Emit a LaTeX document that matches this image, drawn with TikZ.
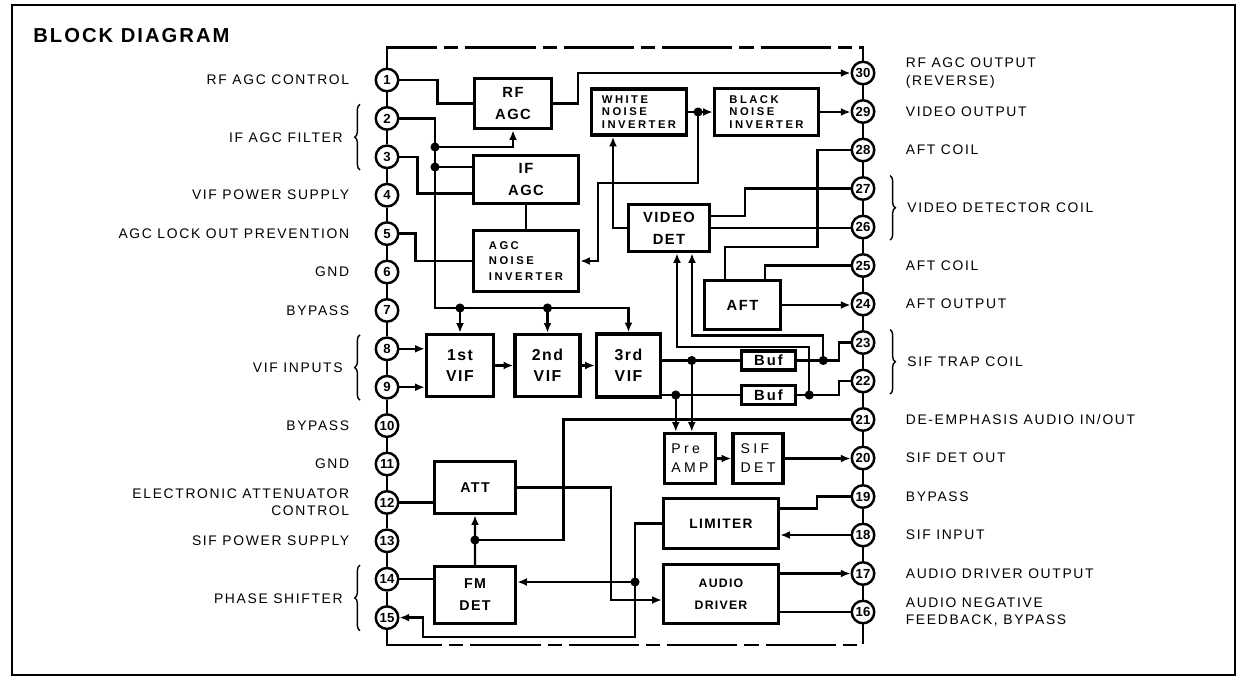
\documentclass[tikz,border=0pt]{standalone}
\usepackage{fontspec}
\setmainfont{Liberation Sans}
\newfontfamily\fetiq[LetterSpace=12]{Liberation Sans}
\newfontfamily\fbloq[LetterSpace=10]{Liberation Sans}
\newfontfamily\fancho[LetterSpace=22]{Liberation Sans}
\newfontfamily\fmuyancho[LetterSpace=24]{Liberation Sans}
\newfontfamily\fbuf[LetterSpace=14]{Liberation Sans}
\usetikzlibrary{arrows.meta,positioning,calc,decorations.pathreplacing}

\begin{document}
\begin{tikzpicture}[
            x=0.02cm, y=-0.02cm,
            bloque/.style={draw, line width=2pt, align=center, inner sep=1pt, font=\fbloq\bfseries\fontsize{8.4}{12.5}\selectfont},
            chico/.style={font=\fancho\bfseries\fontsize{6.4}{7.3}\selectfont, align=left},
            medio/.style={font=\fbloq\bfseries\fontsize{7.8}{12.5}\selectfont},
            ancho/.style={font=\fmuyancho\fontsize{8}{10.8}\selectfont, align=left},
            terminal/.style={draw, circle, line width=1.4pt, minimum size=0.45cm, inner sep=0pt, font=\bfseries\fontsize{7.5}{8}\selectfont},
            etiq/.style={font=\fetiq\fontsize{7.9}{9.8}\selectfont, inner sep=0pt},
            etiqizq/.style={etiq, align=right},
            etiqder/.style={etiq, align=left},
            linea/.style={line width=1.35pt},
            flecha/.style={linea, -{Latex[length=5.5pt,width=4.5pt]}},
            llave/.style={decorate, decoration={brace, amplitude=3pt}, line width=0.8pt},
            contorno/.style={line width=1.35pt, dash pattern=on 40pt off 4pt on 8pt off 4pt}
        ]
        \useasboundingbox (0,0) rectangle (1239,677);

        % Marco exterior y titulo
        \draw[line width=1.5pt] (12,5) rectangle (1235,675);
        \node[font=\fbloq\bfseries\fontsize{11.5}{14}\selectfont, anchor=west, inner sep=0pt] (titulo) at (33,36) {BLOCK DIAGRAM};

        % Patillas del circuito integrado
        \foreach \n in {1,...,15}
            \node[terminal] (p\n) at (387,{80+38.4*(\n-1)}) {\n};
        \foreach \n in {16,...,30}
            \node[terminal] (p\n) at (863,{73+38.5*(30-\n)}) {\n};
        \foreach \n [evaluate=\n as \m using int(\n+1)] in {1,...,14}
            \draw[linea] (p\n) -- (p\m);
        \foreach \n [evaluate=\n as \m using int(\n+1)] in {16,...,29}
            \draw[linea] (p\n) -- (p\m);

        % Contorno del chip (arriba y abajo)
        \draw[contorno] (p1.north) -- ++(0,-20) -| (p30.north);
        \draw[contorno] (p15.south) -- ++(0,15) -| (p16.south);

        % Etiquetas de la izquierda
        \node[etiqizq, left=0.5cm of p1] (e1) {RF AGC CONTROL};
        \node[etiqizq, anchor=east] (e2) at ($(p2)!0.5!(p3)+(-44,0)$) {IF AGC FILTER};
        \node[etiqizq, left=0.5cm of p4] (e4) {VIF POWER SUPPLY};
        \node[etiqizq, left=0.5cm of p5] (e5) {AGC LOCK OUT PREVENTION};
        \node[etiqizq, left=0.5cm of p6] (e6) {GND};
        \node[etiqizq, left=0.5cm of p7] (e7) {BYPASS};
        \node[etiqizq, anchor=east] (e8) at ($(p8)!0.5!(p9)+(-44,0)$) {VIF INPUTS};
        \node[etiqizq, left=0.5cm of p10] (e10) {BYPASS};
        \node[etiqizq, left=0.5cm of p11] (e11) {GND};
        \node[etiqizq, left=0.5cm of p12] (e12) {ELECTRONIC ATTENUATOR\\CONTROL};
        \node[etiqizq, left=0.5cm of p13] (e13) {SIF POWER SUPPLY};
        \node[etiqizq, anchor=east] (e14) at ($(p14)!0.5!(p15)+(-44,0)$) {PHASE SHIFTER};
        \draw[llave] ([shift={(-27,13)}]p3.center) -- ([shift={(-27,-14)}]p2.center);
        \draw[llave] ([shift={(-27,13)}]p9.center) -- ([shift={(-27,-14)}]p8.center);
        \draw[llave] ([shift={(-27,13)}]p15.center) -- ([shift={(-27,-14)}]p14.center);

        % Etiquetas de la derecha
        \node[etiqder, right=0.6cm of p30] (e30) {RF AGC OUTPUT\\(REVERSE)};
        \node[etiqder, right=0.6cm of p29] (e29) {VIDEO OUTPUT};
        \node[etiqder, right=0.6cm of p28] (e28) {AFT COIL};
        \node[etiqder, anchor=west] (e27) at ($(p27)!0.5!(p26)+(44,0)$) {VIDEO DETECTOR COIL};
        \node[etiqder, right=0.6cm of p25] (e25) {AFT COIL};
        \node[etiqder, right=0.6cm of p24] (e24) {AFT OUTPUT};
        \node[etiqder, anchor=west] (e23) at ($(p23)!0.5!(p22)+(44,0)$) {SIF TRAP COIL};
        \node[etiqder, right=0.6cm of p21] (e21) {DE-EMPHASIS AUDIO IN/OUT};
        \node[etiqder, right=0.6cm of p20] (e20) {SIF DET OUT};
        \node[etiqder, right=0.6cm of p19] (e19) {BYPASS};
        \node[etiqder, right=0.6cm of p18] (e18) {SIF INPUT};
        \node[etiqder, right=0.6cm of p17] (e17) {AUDIO DRIVER OUTPUT};
        \node[etiqder, right=0.6cm of p16] (e16) {AUDIO NEGATIVE\\FEEDBACK, BYPASS};
        \draw[llave] ([shift={(27,-13)}]p27.center) -- ([shift={(27,13)}]p26.center);
        \draw[llave] ([shift={(27,-13)}]p23.center) -- ([shift={(27,13)}]p22.center);

        % Bloques de AGC y supresion de ruido
        \node[bloque, minimum width=1.54cm, minimum height=1.0cm] (rfagc) at (513,103.5) {RF\\AGC};
        \node[bloque, minimum width=2.1cm, minimum height=0.96cm] (ifagc) at (526,179.5) {IF\\AGC};
        \node[bloque, chico, minimum width=2.1cm, minimum height=1.22cm, font=\fancho\bfseries\fontsize{6.4}{8.8}\selectfont] (agcni) at (526,261) {AGC\\NOISE\\INVERTER};
        \node[bloque, chico, minimum width=1.9cm, minimum height=0.92cm] (wni) at (639,112) {WHITE\\NOISE\\INVERTER};
        \node[bloque, chico, minimum width=2.08cm, minimum height=0.94cm] (bni) at (766.5,112) {BLACK\\NOISE\\INVERTER};

        % Detector de video y AFT
        \node[bloque, minimum width=1.62cm, minimum height=0.94cm] (vdet) at (669,228) {VIDEO\\DET};
        \node[bloque, minimum width=1.52cm, minimum height=0.98cm] (aft) at (742.5,305) {AFT};

        % Cadena de FI de video
        \node[bloque, minimum width=1.34cm, minimum height=1.24cm, font=\fbloq\bfseries\fontsize{9}{12}\selectfont] (vif1) at (460,365.5) {1st\\VIF};
        \node[bloque, minimum width=1.3cm, minimum height=1.24cm, font=\fbloq\bfseries\fontsize{9}{12}\selectfont, right=0.36cm of vif1] (vif2) {2nd\\VIF};
        \node[bloque, minimum width=1.28cm, minimum height=1.26cm, font=\fbloq\bfseries\fontsize{9}{12}\selectfont, right=0.26cm of vif2] (vif3) {3rd\\VIF};
        \node[bloque, minimum width=1.08cm, minimum height=0.38cm, font=\fbuf\bfseries\fontsize{8.4}{9}\selectfont] (bufa) at (768.5,360.5) {Buf};
        \node[bloque, minimum width=1.08cm, minimum height=0.38cm, font=\fbuf\bfseries\fontsize{8.4}{9}\selectfont, below=0.24cm of bufa] (bufb) {Buf};

        % Seccion de sonido
        \node[bloque, ancho, minimum width=1.02cm, minimum height=1.0cm] (preamp) at (690,458.5) {Pre\\AMP};
        \node[bloque, ancho, minimum width=1.0cm, minimum height=1.0cm, right=0.28cm of preamp] (sifdet) {SIF\\DET};
        \node[bloque, medio, minimum width=2.3cm, minimum height=1.0cm] (limiter) at (721,523.5) {LIMITER};
        \node[bloque, minimum width=2.3cm, minimum height=1.18cm, font=\fbloq\bfseries\fontsize{7}{12.5}\selectfont] (adrv) at (721,594) {AUDIO\\DRIVER};
        \node[bloque, medio, minimum width=1.62cm, minimum height=1.04cm, font=\fbloq\bfseries\fontsize{8.1}{12.5}\selectfont] (att) at (475,487.5) {ATT};
        \node[bloque, medio, minimum width=1.62cm, minimum height=1.14cm, font=\fbloq\bfseries\fontsize{8.1}{12.5}\selectfont] (fmdet) at (475,595) {FM\\DET};

        % Puntos de union
        \coordinate (bus) at (435,308);
        \coordinate (j1) at (435,147);
        \coordinate (j2) at (435,167);
        \coordinate (j3) at ($(wni.east)!0.4!(bni.west)$);
        \coordinate (jv1) at (vif1.north |- bus);
        \coordinate (jv2) at (vif2.north |- bus);
        \coordinate (j4) at ($(bufa.west)+(-48,0)$);
        \coordinate (j5) at ($(bufb.west)+(-64,0)$);
        \coordinate (j6) at ($(bufa.east)+(26,0)$);
        \coordinate (j7) at ($(bufb.east)+(12,0)$);
        \coordinate (j8) at ($(att.south)!0.5!(fmdet.north)$);
        \coordinate (j9) at (635,582);
        \foreach \j in {j1,j2,j3,jv1,jv2,j4,j5,j6,j7,j8,j9}
            \fill (\j) circle (2.6pt);

        % Conexiones de AGC
        \draw[linea] (p1.east) -- ++(38,0) |- (rfagc.west);
        \draw[flecha] (rfagc.east) -- ++(25,0) |- (p30.west);
        \draw[flecha] (p2.east) -| (bus) -| (vif3.north);
        \draw[flecha] (jv1) -- (vif1.north);
        \draw[flecha] (jv2) -- (vif2.north);
        \draw[flecha] (j1) -| (rfagc.south);
        \draw[linea] (j2) -- (j2 -| ifagc.west);
        \draw[linea] (p3.east) -- ++(18,0) |- ([yshift=-0.28cm]ifagc.west);
        \draw[linea] (ifagc.south) -- (agcni.north);
        \draw[linea] (p5.east) -- ++(16,0) |- (agcni.west);

        % Inversores de ruido y video
        \draw[flecha] (wni.east) -- (bni.west);
        \draw[flecha] (j3) -- ++(0,71) -| ([xshift=0.36cm]agcni.east) -- (agcni.east);
        \draw[flecha] (vdet.west) -| ([xshift=-0.52cm]wni.south);
        \draw[flecha] (bni.east) -- (bni.east -| p29.west);
        \draw[linea] ([yshift=0.24cm]vdet.east) -- ++(33.5,0) |- (p27.west);
        \draw[linea] (vdet.east) -- (vdet.east -| p26.west);
        \draw[linea] (p28.west) -- ++(-33,0) -- ++(0,97) -| ([xshift=-0.35cm]aft.north);
        \draw[linea] ([xshift=0.45cm]aft.north) |- (p25.west);
        \draw[flecha] (aft.east) -- (aft.east -| p24.west);

        % FI de video y buffers
        \draw[flecha] (p8.east) -- (p8.east -| vif1.west);
        \draw[flecha] (p9.east) -- (p9.east -| vif1.west);
        \draw[flecha] (vif1.east) -- (vif2.west);
        \draw[flecha] (vif2.east) -- (vif3.west);
        \draw[linea] (vif3.east |- bufa.west) -- (bufa.west);
        \draw[linea] (vif3.east |- bufb.west) -- (bufb.west);
        \draw[linea] (bufa.east) -- ++(42,0) |- (p23.west);
        \draw[linea] (bufb.east) -- ++(42,0) |- (p22.west);
        \draw[flecha] (j6) -- ++(0,-25) -| ([xshift=0.46cm]vdet.south);
        \draw[flecha] (j7) -- ++(0,-48) -| ([xshift=0.16cm]vdet.south);
        \draw[flecha] (j4) -- (j4 |- preamp.north);
        \draw[flecha] (j5) -- (j5 |- preamp.north);

        % Sonido
        \draw[flecha] (preamp.east) -- (sifdet.west);
        \draw[flecha] (sifdet.east) -- (sifdet.east -| p20.west);
        \draw[linea] (p21.west) -- ++(-287,0) |- (j8);
        \draw[flecha] (j8) -- (att.south);
        \draw[linea] (j8) -- (fmdet.north);
        \draw[linea] (p12.east) -- (p12.east -| att.west);
        \draw[flecha] (att.east) -- ++(93.5,0) |- ([yshift=-0.12cm]adrv.west);
        \draw[linea] (p14.east) -- (p14.east -| fmdet.west);
        \draw[flecha] (j9) -- (j9 -| fmdet.east);
        \draw[flecha] (limiter.west) -| (j9) -- ++(0,55) -- ++(-212,0) |- (p15.east);
        \draw[linea] ([yshift=0.3cm]limiter.east) -- ++(37,0) |- (p19.west);
        \draw[flecha] (p18.west) -- (p18.west -| limiter.east);
        \draw[flecha] (p17.west -| adrv.east) -- (p17.west);
        \draw[linea] (p16.west -| adrv.east) -- (p16.west);

    \end{tikzpicture}
\end{document}
